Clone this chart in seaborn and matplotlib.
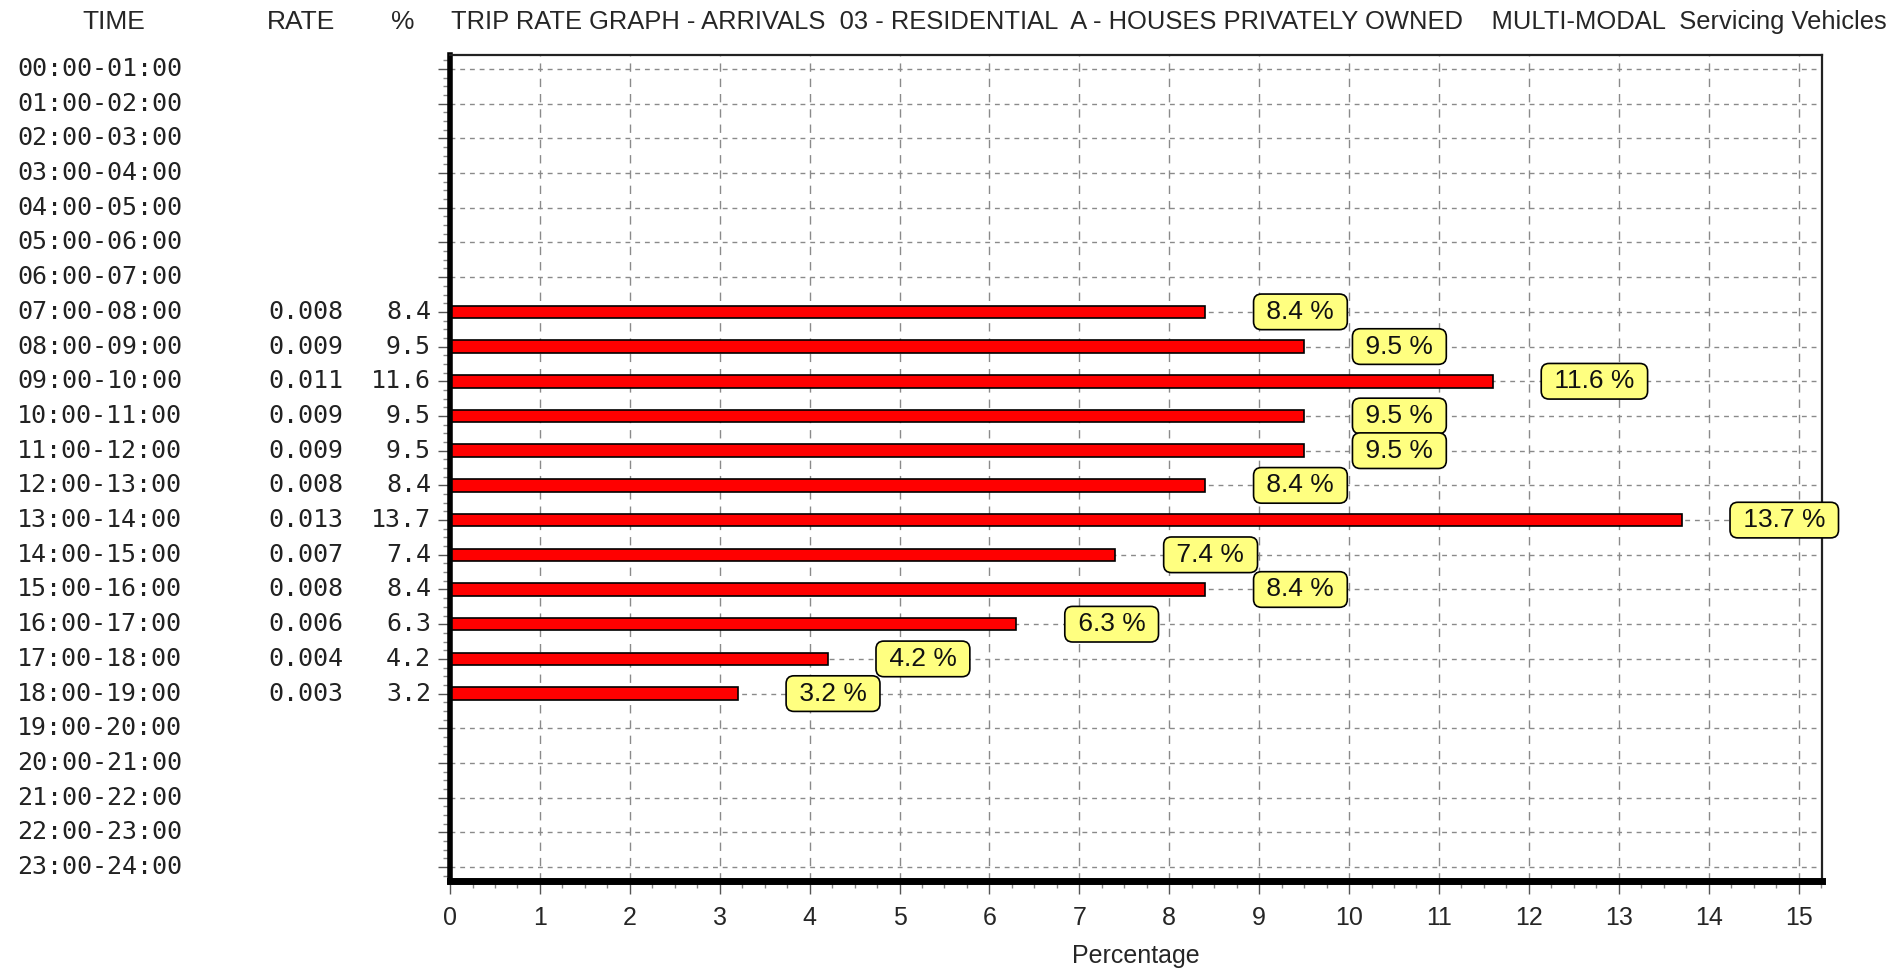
import numpy as np
import pandas as pd
import matplotlib
matplotlib.use("Agg")
import matplotlib.pyplot as plt
import matplotlib.transforms as mtransforms
from matplotlib import font_manager
from matplotlib.ticker import MultipleLocator
import seaborn as sns

# ---- data ---------------------------------------------------------------
time_slots = [
    "00:00-01:00", "01:00-02:00", "02:00-03:00", "03:00-04:00",
    "04:00-05:00", "05:00-06:00", "06:00-07:00", "07:00-08:00",
    "08:00-09:00", "09:00-10:00", "10:00-11:00", "11:00-12:00",
    "12:00-13:00", "13:00-14:00", "14:00-15:00", "15:00-16:00",
    "16:00-17:00", "17:00-18:00", "18:00-19:00", "19:00-20:00",
    "20:00-21:00", "21:00-22:00", "22:00-23:00", "23:00-24:00",
]
rates = [None] * 7 + [0.008, 0.009, 0.011, 0.009, 0.009, 0.008, 0.013,
                      0.007, 0.008, 0.006, 0.004, 0.003] + [None] * 5
percents = [None] * 7 + [8.4, 9.5, 11.6, 9.5, 9.5, 8.4, 13.7,
                         7.4, 8.4, 6.3, 4.2, 3.2] + [None] * 5
x_ticks = list(range(0, 16))

title = ("TRIP RATE GRAPH - ARRIVALS  03 - RESIDENTIAL  A - HOUSES PRIVATELY OWNED"
         "    MULTI-MODAL  Servicing Vehicles")

df = pd.DataFrame({"time": time_slots,
                   "pct": pd.to_numeric(pd.Series(percents), errors="coerce")})

# ---- fonts --------------------------------------------------------------
sns.set_style("white")
available = {f.name for f in font_manager.fontManager.ttflist}
narrow = "Liberation Sans Narrow" if "Liberation Sans Narrow" in available else "Liberation Sans"
plt.rcParams["font.family"] = [narrow, "DejaVu Sans"]
mono = "DejaVu Sans Mono"

# ---- figure -------------------------------------------------------------
fig = plt.figure(figsize=(18.99, 9.69), dpi=100)
fig.patch.set_facecolor("white")
ax = fig.add_axes([0.237, 0.0908, 0.7224, 0.8524])

sns.barplot(data=df, x="pct", y="time", order=time_slots, orient="h",
            width=0.36, color="#FF0000", saturation=1, edgecolor="black",
            linewidth=1.2, errorbar=None, ax=ax)

ax.set_xlim(0, 15.26)
ax.set_ylim(23.4, -0.4)

# grid
ax.set_axisbelow(True)
ax.xaxis.grid(True, color="#8a8a8a", linestyle=(0, (6, 5)), linewidth=1)
ax.yaxis.grid(True, color="#8a8a8a", linestyle=(0, (3.5, 3.5)), linewidth=1)

# spines
for side in ("top", "right"):
    ax.spines[side].set_color("#222222")
    ax.spines[side].set_linewidth(1.6)
ax.spines["left"].set_color("black")
ax.spines["left"].set_linewidth(4)
ax.spines["bottom"].set_color("black")
ax.spines["bottom"].set_linewidth(5)

# ticks
ax.xaxis.set_major_locator(MultipleLocator(1))
ax.xaxis.set_minor_locator(MultipleLocator(0.25))
ax.yaxis.set_major_locator(MultipleLocator(1))
ax.yaxis.set_minor_locator(MultipleLocator(0.25))
ax.tick_params(axis="x", which="major", direction="out", length=9, width=1,
               color="#555555", labelsize=18, pad=9, bottom=True)
ax.tick_params(axis="x", which="minor", direction="out", length=5, width=1,
               color="#888888", bottom=True)
ax.tick_params(axis="y", which="major", direction="out", length=9, width=1,
               color="#555555", labelleft=False, left=True)
ax.tick_params(axis="y", which="minor", direction="out", length=5, width=1,
               color="#888888", left=True)
ax.set_xticks(x_ticks)
ax.set_xticklabels([str(t) for t in x_ticks])
ax.set_ylabel("")
ax.set_xlabel("Percentage", fontsize=18, labelpad=10)

# value labels in yellow boxes
for i, v in enumerate(percents):
    if v is None:
        continue
    ax.annotate(f" {v} % ", xy=(v, i), xytext=(39, 0), textcoords="offset points",
                ha="left", va="center", fontsize=19, color="#111111",
                bbox=dict(boxstyle="round,pad=0.22,rounding_size=0.3",
                          facecolor="#FFFF80", edgecolor="black", linewidth=1.2),
                annotation_clip=False, zorder=5)

# table columns on the left
row_tr = mtransforms.blended_transform_factory(fig.transFigure, ax.transData)
for i, t in enumerate(time_slots):
    ax.text(17 / 1899, i, t, transform=row_tr, ha="left", va="center",
            fontsize=18, family=mono, color="#222222")
    if rates[i] is not None:
        ax.text(343 / 1899, i, f"{rates[i]:.3f}", transform=row_tr, ha="right",
                va="center", fontsize=18, family=mono, color="#222222")
        ax.text(431 / 1899, i, f"{percents[i]}", transform=row_tr, ha="right",
                va="center", fontsize=18, family=mono, color="#222222")

# header line
hy = 1 - 22 / 969
fig.text(114 / 1899, hy, "TIME", ha="center", va="center", fontsize=19)
fig.text(301 / 1899, hy, "RATE", ha="center", va="center", fontsize=19)
fig.text(403 / 1899, hy, "%", ha="center", va="center", fontsize=19)
fig.text(451 / 1899, hy, title, ha="left", va="center", fontsize=18.35)

fig.savefig("out.png", dpi=100, facecolor="white")
